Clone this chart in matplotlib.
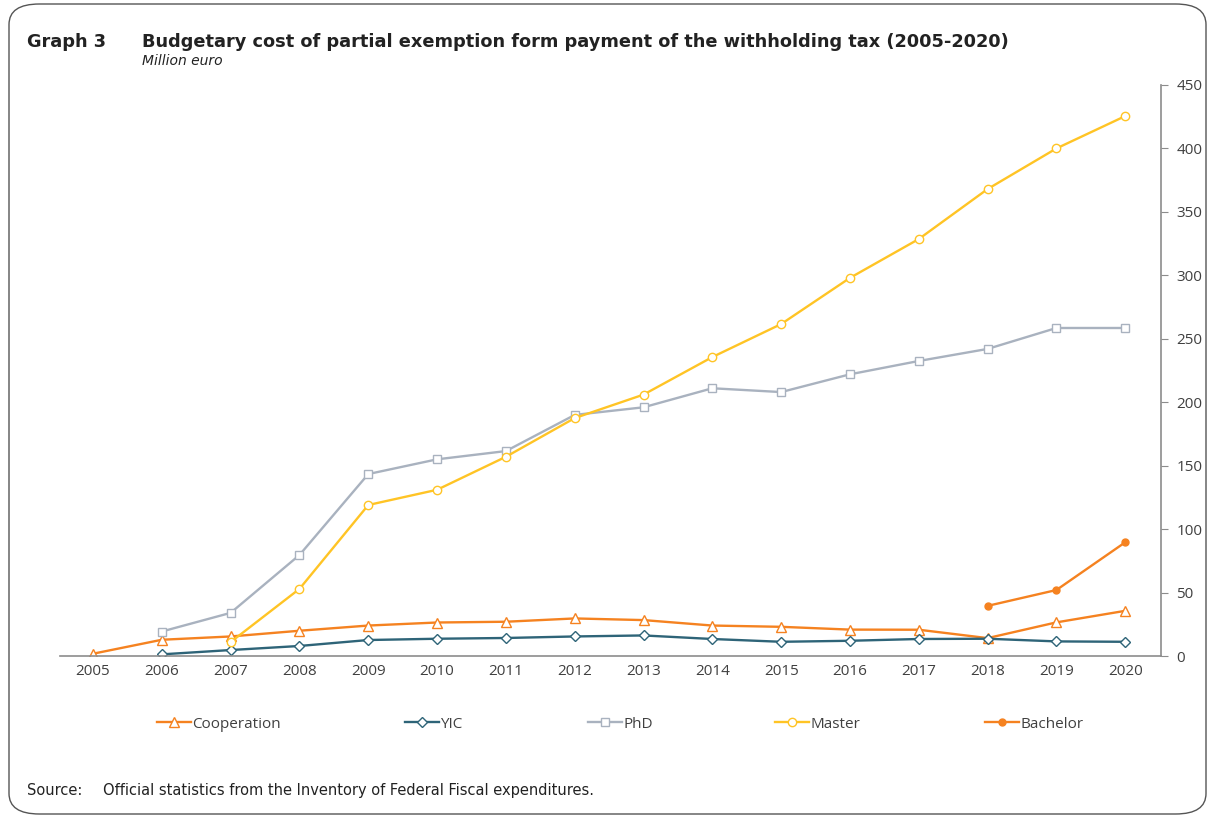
import matplotlib
matplotlib.use("Agg")
import matplotlib.pyplot as plt
from matplotlib.patches import FancyBboxPatch

# data (million euro)
years = list(range(2005, 2021))
coop = [1.8, 12.8, 15.4, 19.9, 24.0, 26.4, 27.0, 29.6, 28.3, 24.0, 23.0, 20.8, 20.7, 14.1, 26.5, 35.6]
yic_years = list(range(2006, 2021))
yic = [1.3, 4.7, 7.9, 12.6, 13.6, 14.2, 15.4, 16.2, 13.4, 11.2, 12.0, 13.4, 13.6, 11.5, 11.2]
phd_years = list(range(2006, 2021))
phd = [19.3, 34.0, 79.6, 143.4, 155.0, 161.5, 190.0, 196.0, 211.0, 208.0, 222.0, 232.5, 242.0, 258.5, 258.5]
master_years = list(range(2007, 2021))
master = [11.0, 52.9, 119.0, 131.0, 157.0, 187.5, 206.0, 235.6, 261.6, 298.0, 328.6, 368.0, 400.0, 425.5]
bach_years = [2018, 2019, 2020]
bach = [39.5, 52.0, 89.6]

c_coop = "#F58220"
c_yic = "#2E6478"
c_phd = "#A9B2BF"
c_master = "#FFC425"
c_bach = "#F58220"
grey = "#8C8C8C"
txt = "#404040"

plt.rcParams['font.family'] = ['Open Sans', 'DejaVu Sans']

fig = plt.figure(figsize=(12.15, 8.21), dpi=100)
W, H = 1215, 821

# rounded frame
box = FancyBboxPatch((9 / W, 7 / H), 1197 / W, 810 / H, boxstyle="round,pad=0,rounding_size=0.025",
                     transform=fig.transFigure, fill=False, edgecolor="#555555", linewidth=1.0)
fig.patches.append(box)

ax = fig.add_axes([60 / W, 1 - 656 / H, (1161 - 60) / W, (656 - 85) / H])

ax.plot(years, coop, color=c_coop, lw=1.7, marker="^", ms=7, mfc="white", mec=c_coop, mew=1.0, label="Cooperation")
ax.plot(yic_years, yic, color=c_yic, lw=1.7, marker="D", ms=5, mfc="white", mec=c_yic, mew=1.0, label="YIC")
ax.plot(phd_years, phd, color=c_phd, lw=1.7, marker="s", ms=6, mfc="white", mec=c_phd, mew=1.0, label="PhD")
ax.plot(master_years, master, color=c_master, lw=1.7, marker="o", ms=6, mfc="white", mec=c_master, mew=1.0, label="Master")
ax.plot(bach_years, bach, color=c_bach, lw=1.7, marker="o", ms=5, mfc=c_bach, mec=c_bach, label="Bachelor")

ax.set_xlim(2004.52, 2020.52)
ax.set_ylim(0, 450)
ax.set_xticks(years)
ax.set_yticks(range(0, 451, 50))
ax.yaxis.tick_right()
for s in ["top", "left"]:
    ax.spines[s].set_visible(False)
for s in ["bottom", "right"]:
    ax.spines[s].set_color(grey)
    ax.spines[s].set_linewidth(1.2)
ax.tick_params(axis="x", length=0, pad=6, labelsize=11, colors=txt)
ax.tick_params(axis="y", length=5, color=grey, pad=6, labelsize=11, colors=txt, right=True, left=False)
for lab in ax.get_xticklabels() + ax.get_yticklabels():
    lab.set_color(txt)

# legend entries placed individually like in the original
handles, labels = ax.get_legend_handles_labels()
leg_x = [157, 405, 588, 775, 985]
for h, l, x in zip(handles, labels, leg_x):
    lg = fig.legend([h], [l], loc="center left", bbox_to_anchor=(x / W, 1 - 724 / H),
                    frameon=False, handlelength=2.2, handletextpad=0.1, borderaxespad=0, borderpad=0,
                    fontsize=11)
    for t in lg.get_texts():
        t.set_color(txt)

fig.text(27 / W, 1 - 42 / H, "Graph 3", fontsize=12.8, fontweight="bold", color="#222222",
         va="center", family=["DejaVu Sans"])
fig.text(142 / W, 1 - 42 / H, "Budgetary cost of partial exemption form payment of the withholding tax (2005-2020)",
         fontsize=12.8, fontweight="bold", color="#222222", va="center", family=["DejaVu Sans"])
fig.text(142 / W, 1 - 61 / H, "Million euro", fontsize=10, style="italic", color="#222222", va="center",
         family=["DejaVu Sans"])
fig.text(27 / W, 1 - 790 / H, "Source:", fontsize=10.5, color="#222222", va="center", family=["DejaVu Sans"])
fig.text(103 / W, 1 - 790 / H, "Official statistics from the Inventory of Federal Fiscal expenditures.",
         fontsize=10.5, color="#222222", va="center", family=["DejaVu Sans"])

fig.savefig("out.png", dpi=100)
